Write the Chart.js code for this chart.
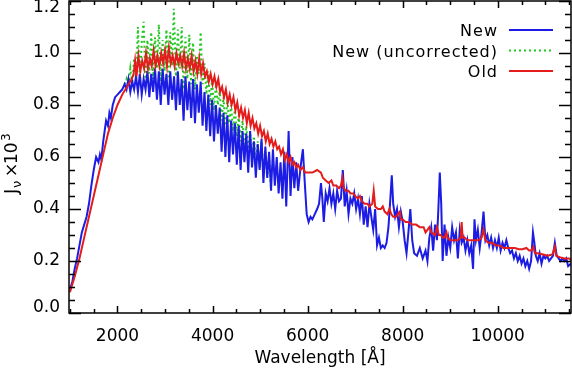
<!DOCTYPE html>
<html>
<head>
<meta charset="utf-8">
<script src="https://cdn.jsdelivr.net/npm/chart.js@4.4.0/dist/chart.umd.min.js"></script>
<style>
  body { margin: 0; background: #fff; }
  #wrap { width: 572px; height: 369px; }
</style>
</head>
<body>
<div id="wrap"><canvas id="myChart" width="572" height="369"></canvas></div>
<script>
// wavelength [A] and J_nu x 10^3
const newWave = [1000,1050,1100,1150,1200,1250,1300,1350,1400,1450,1500,1550,1600,1630,1660,1700,1730,1760,1800,1830,1860,1900,1950,2000,2050,2100,
  2150,2190,2230,2270,2310,2350,2390,2430,2470,2510,2550,2590,2630,2670,2710,2750,2790,2830,2870,2910,2950,2990,3030,3070,3110,3150,3190,3230,3270,3310,
  3350,3390,3430,3470,3510,3550,3590,3630,3670,3710,3750,3790,3830,3870,3910,3950,3990,4030,4070,4110,4150,4190,4230,4270,4310,4350,4390,4430,4470,4510,
  4550,4590,4630,4670,4710,4750,4790,4830,4870,4910,4950,4990,5030,5070,5110,5150,5190,5230,5270,5310,5350,5390,5430,5470,5510,5550,5600,5640,5680,5720,
  5760,5800,5850,5900,5940,5980,6020,6060,6100,6150,6200,6240,6280,6310,6340,6380,6420,6460,6500,6540,6580,6620,6660,6700,6740,6780,6820,6860,6900,6940,
  6980,7020,7060,7100,7140,7180,7220,7260,7300,7340,7380,7420,7460,7500,7540,7580,7620,7660,7700,7740,7770,7800,7840,7880,7920,7960,8000,8040,8080,8120,
  8160,8200,8240,8300,8360,8420,8480,8520,8560,8600,8640,8680,8720,8750,8780,8810,8840,8880,8920,8960,9000,9040,9080,9120,9160,9200,9240,9280,9320,9360,
  9400,9440,9480,9510,9540,9580,9620,9660,9700,9740,9780,9820,9860,9900,9940,9980,10020,10060,10100,10140,10180,10220,10260,10300,10340,10380,10420,10460,10500,10540,
  10580,10620,10660,10700,10740,10770,10800,10840,10880,10920,10960,11000,11040,11080,11120,11160,11200,11240,11280,11320,11360,11400,11440,11480,11540];
const newFlux = [0.09,0.12,0.17,0.21,0.26,0.31,0.34,0.37,0.42,0.49,0.55,0.60,0.58,0.61,0.59,0.66,0.70,0.74,0.72,0.77,0.75,0.80,0.83,0.84,0.85,0.86,
  0.88,0.86,0.90,0.85,0.89,0.86,0.91,0.85,0.92,0.84,0.90,0.86,0.93,0.83,0.92,0.85,0.94,0.82,0.93,0.80,0.94,0.84,0.92,0.80,0.93,0.82,0.91,0.78,0.93,0.80,
  0.90,0.74,0.91,0.78,0.89,0.75,0.90,0.73,0.88,0.77,0.89,0.72,0.85,0.70,0.84,0.68,0.82,0.66,0.80,0.69,0.79,0.62,0.77,0.60,0.76,0.58,0.74,0.61,0.73,0.57,
  0.72,0.55,0.70,0.58,0.69,0.54,0.70,0.56,0.66,0.52,0.65,0.55,0.67,0.50,0.64,0.52,0.62,0.47,0.63,0.49,0.60,0.46,0.58,0.44,0.62,0.41,0.70,0.45,0.60,0.48,
  0.58,0.47,0.56,0.63,0.50,0.38,0.35,0.37,0.36,0.38,0.40,0.42,0.50,0.44,0.35,0.46,0.43,0.48,0.42,0.46,0.40,0.47,0.43,0.44,0.55,0.41,0.47,0.38,0.44,0.42,
  0.46,0.40,0.44,0.38,0.45,0.34,0.41,0.33,0.42,0.37,0.32,0.40,0.26,0.29,0.25,0.26,0.25,0.27,0.33,0.44,0.53,0.42,0.37,0.40,0.33,0.39,0.35,0.28,0.23,0.31,
  0.40,0.28,0.23,0.22,0.25,0.21,0.24,0.20,0.29,0.33,0.24,0.34,0.28,0.40,0.54,0.42,0.20,0.34,0.22,0.29,0.25,0.33,0.28,0.31,0.21,0.32,0.27,0.29,0.24,0.28,
  0.23,0.26,0.17,0.36,0.28,0.32,0.25,0.31,0.39,0.28,0.30,0.26,0.29,0.25,0.28,0.25,0.29,0.24,0.27,0.25,0.28,0.25,0.23,0.24,0.21,0.23,0.20,0.22,0.19,0.21,
  0.18,0.20,0.17,0.20,0.31,0.27,0.22,0.20,0.23,0.19,0.22,0.21,0.22,0.20,0.21,0.22,0.27,0.22,0.21,0.20,0.21,0.20,0.21,0.18,0.19];

const uncWave = [2150,2190,2230,2270,2310,2350,2390,2430,2470,2510,2550,2590,2630,2670,2710,2750,2790,2830,2870,2910,2950,2990,3030,3070,3110,3150,3185,
  3230,3270,3310,3350,3390,3430,3470,3510,3550,3590,3630,3670,3710,3750,3790,3830,3870,3910,3950,3990,4030,4070,4110,4150,4190,4230,4270,4310,4350,4390,
  4430,4470,4510,4550,4590,4630,4670,4710,4750,4790,4830,4870,4910,4950,4990,5030,5070,5110,5150,5190,5230];
const uncFlux = [0.88,0.90,0.87,0.94,0.88,0.98,0.89,1.10,0.90,1.04,1.12,0.88,1.05,0.92,1.08,0.90,1.06,0.94,1.11,0.89,1.05,0.93,1.09,0.90,1.08,0.95,1.17,
  0.91,1.09,0.94,1.10,0.86,1.06,0.90,1.07,0.88,1.04,0.86,0.99,0.92,1.08,0.88,0.96,0.84,0.93,0.80,0.90,0.78,0.88,0.80,0.86,0.74,0.83,0.72,0.82,0.73,0.80,
  0.70,0.79,0.68,0.76,0.66,0.74,0.63,0.72,0.62,0.70,0.60,0.68,0.57,0.66,0.56,0.66,0.53,0.62,0.52,0.60,0.48];

const oldWave = [1000,1100,1200,1300,1400,1500,1600,1700,1800,1900,2000,2100,2200,2300,2340,2370,2400,2440,2480,2520,2560,2600,2640,2680,2720,2760,2800,
  2840,2880,2920,2960,3000,3040,3080,3120,3160,3200,3240,3280,3320,3360,3400,3440,3480,3520,3560,3600,3640,3680,3720,3760,3800,3840,3880,3920,3960,4000,
  4040,4080,4120,4160,4200,4240,4280,4320,4360,4400,4440,4480,4520,4560,4600,4640,4680,4720,4760,4800,4840,4880,4920,4960,5000,5040,5080,5120,5160,5200,
  5240,5280,5320,5360,5400,5440,5480,5520,5560,5600,5640,5680,5720,5760,5800,5850,5900,5950,6000,6100,6200,6280,6320,6380,6440,6500,6540,6600,6660,6700,
  6730,6760,6800,6860,6900,6960,7000,7060,7100,7140,7200,7260,7300,7360,7390,7420,7480,7540,7580,7620,7680,7720,7760,7800,7860,7900,7940,7960,8000,8060,
  8120,8200,8280,8360,8440,8480,8520,8560,8600,8680,8720,8760,8800,8840,8880,8920,8940,9000,9080,9160,9220,9240,9260,9300,9360,9440,9500,9550,9600,9660,
  9700,9740,9800,9880,9960,10040,10120,10200,10280,10360,10440,10520,10600,10660,10700,10750,10780,10850,10950,11050,11150,11200,11230,11300,11400,11500,11540];
const oldFlux = [0.08,0.14,0.21,0.29,0.37,0.45,0.53,0.61,0.69,0.75,0.80,0.84,0.87,0.90,0.92,0.97,0.91,0.99,0.93,0.97,0.94,1.00,0.94,0.98,0.95,1.01,0.95,
  0.99,0.95,1.00,0.96,1.01,0.95,1.02,0.96,0.99,0.95,1.00,0.96,0.99,0.95,1.00,0.94,0.98,0.94,0.99,0.93,0.97,0.92,0.98,0.92,0.96,0.91,0.93,0.89,0.92,0.88,
  0.91,0.87,0.90,0.85,0.87,0.83,0.86,0.81,0.84,0.80,0.83,0.78,0.81,0.76,0.79,0.75,0.78,0.73,0.77,0.72,0.75,0.71,0.73,0.69,0.72,0.68,0.70,0.66,0.69,0.65,
  0.67,0.64,0.66,0.63,0.64,0.61,0.63,0.59,0.61,0.58,0.60,0.57,0.58,0.56,0.57,0.55,0.56,0.54,0.54,0.54,0.55,0.54,0.52,0.51,0.50,0.51,0.49,0.49,0.48,0.49,
  0.52,0.48,0.47,0.47,0.46,0.46,0.45,0.44,0.45,0.43,0.42,0.42,0.41,0.42,0.47,0.41,0.40,0.40,0.41,0.39,0.38,0.40,0.38,0.37,0.37,0.38,0.39,0.36,0.36,0.35,
  0.35,0.34,0.34,0.33,0.33,0.31,0.32,0.33,0.31,0.30,0.33,0.30,0.30,0.29,0.29,0.31,0.29,0.28,0.28,0.28,0.29,0.35,0.29,0.29,0.28,0.28,0.28,0.28,0.28,0.29,
  0.32,0.28,0.27,0.27,0.26,0.26,0.25,0.25,0.25,0.25,0.245,0.245,0.25,0.24,0.24,0.255,0.23,0.23,0.225,0.22,0.225,0.255,0.22,0.215,0.21,0.21,0.205];

const xTicks = [2000, 4000, 6000, 8000, 10000];
const yTicks = [0.0, 0.2, 0.4, 0.6, 0.8, 1.0, 1.2];
const seriesNames = ['New', 'New (uncorrected)', 'Old'];

const FONT = 'DejaVu Sans';
const BLUE = '#1c1ce4', GREEN = '#1ec81e', RED = '#e41c1c';

function pairs(xs, ys) {
  return xs.map((x, i) => ({x: x, y: ys[i]}));
}

// IDL style box: inward ticks on all four sides, y labels, legend, y title
const boxPlugin = {
  id: 'box',
  afterDraw(chart) {
    const {ctx, chartArea: a, scales: {x, y}} = chart;
    ctx.save();
    ctx.strokeStyle = '#000';
    ctx.lineWidth = 1.5;
    ctx.strokeRect(a.left, a.top, a.right - a.left, a.bottom - a.top);
    ctx.beginPath();
    for (let v = 1000; v <= 11500; v += 500) {
      const px = Math.round(x.getPixelForValue(v)) + 0.5;
      const len = v % 2000 === 0 ? 7 : 4;
      ctx.moveTo(px, a.bottom); ctx.lineTo(px, a.bottom - len);
      ctx.moveTo(px, a.top); ctx.lineTo(px, a.top + len);
    }
    for (let i = 0; i <= 24; i++) {
      const py = Math.round(y.getPixelForValue(i * 0.05)) + 0.5;
      const len = i % 4 === 0 ? 12 : 6;
      ctx.moveTo(a.left, py); ctx.lineTo(a.left + len, py);
      ctx.moveTo(a.right, py); ctx.lineTo(a.right - len, py);
    }
    ctx.stroke();

    // y tick labels, end labels nudged inside the box like IDL does
    ctx.fillStyle = '#000';
    ctx.font = '17px "' + FONT + '"';
    ctx.textAlign = 'right';
    ctx.textBaseline = 'middle';
    yTicks.forEach(v => {
      const py = Math.min(Math.max(y.getPixelForValue(v), a.top + 7), a.bottom - 5);
      ctx.fillText(v.toFixed(1), a.left - 9, py);
    });

    // legend
    const colors = [BLUE, GREEN, RED];
    const dashes = [[], [2, 3], []];
    const base = [36, 56.5, 77];
    ctx.font = '16px "' + FONT + '"';
    ctx.letterSpacing = '1px';
    ctx.textBaseline = 'alphabetic';
    seriesNames.forEach((name, i) => {
      ctx.fillText(name, 498, base[i]);
      ctx.beginPath();
      ctx.setLineDash(dashes[i]);
      ctx.strokeStyle = colors[i];
      ctx.lineWidth = 2;
      ctx.moveTo(509, base[i] - 6);
      ctx.lineTo(553, base[i] - 6);
      ctx.stroke();
    });
    ctx.setLineDash([]);
    ctx.letterSpacing = '0px';

    // y axis title: J_nu x 10^3
    ctx.translate(17, 197);
    ctx.rotate(-Math.PI / 2);
    ctx.textAlign = 'left';
    const part = (t, size, at, dy) => {
      ctx.font = size + 'px "' + FONT + '"';
      ctx.fillText(t, at, dy);
    };
    part('J', 18, 3, 0);
    part('\u03bd', 13, 9, 4);
    part('\u00d7', 17, 20, 0);
    part('10', 17, 33, 0);
    part('3', 12, 56, -7);
    ctx.restore();
  }
};

new Chart(document.getElementById('myChart'), {
  type: 'line',
  data: {
    datasets: [
      {label: seriesNames[0], data: pairs(newWave, newFlux), borderColor: BLUE, borderWidth: 2, order: 1},
      {label: seriesNames[1], data: pairs(uncWave, uncFlux), borderColor: GREEN, borderWidth: 2, borderDash: [2, 3], order: 2},
      {label: seriesNames[2], data: pairs(oldWave, oldFlux), borderColor: RED, borderWidth: 2, order: 0}
    ]
  },
  options: {
    responsive: false,
    animation: false,
    layout: {padding: {top: 1, right: 1, left: 0, bottom: 0}},
    elements: {point: {radius: 0}, line: {tension: 0, fill: false}},
    plugins: {legend: {display: false}, tooltip: {enabled: false}},
    scales: {
      x: {
        type: 'linear', min: 980, max: 11540,
        grid: {display: false, drawTicks: false},
        border: {display: false},
        afterBuildTicks: (s) => { s.ticks = xTicks.map(v => ({value: v})); },
        afterFit: (s) => { s.height = 56; s.paddingLeft = 0; s.paddingRight = 0; },
        ticks: {color: '#000', font: {family: FONT, size: 17}, padding: 13, maxRotation: 0, autoSkip: false,
                callback: (v) => String(v)},
        title: {display: true, text: 'Wavelength [\u00c5]', color: '#000', font: {family: FONT, size: 17}, padding: {top: 0, bottom: 0}}
      },
      y: {
        type: 'linear', min: 0, max: 1.2,
        grid: {display: false, drawTicks: false},
        border: {display: false},
        afterBuildTicks: (s) => { s.ticks = yTicks.map(v => ({value: v})); },
        afterFit: (s) => { s.width = 69; s.paddingTop = 0; s.paddingBottom = 0; },
        ticks: {display: false}
      }
    }
  },
  plugins: [boxPlugin]
});
</script>
</body>
</html>
